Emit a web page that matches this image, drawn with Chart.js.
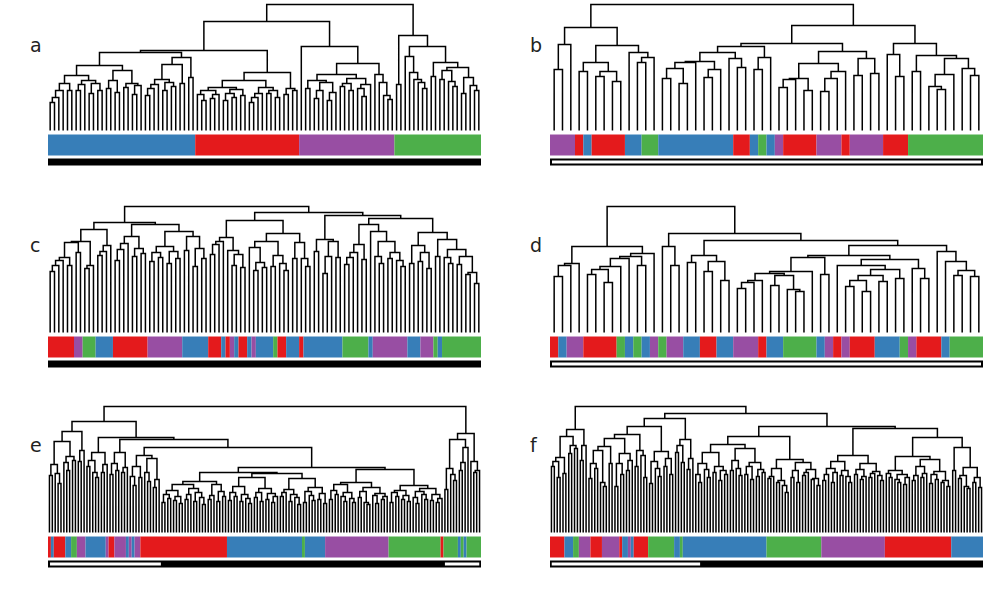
<!DOCTYPE html>
<html>
<head>
<meta charset="utf-8">
<script src="https://cdn.jsdelivr.net/npm/chart.js@4.4.1/dist/chart.umd.min.js"></script>
<style>
  body { margin: 0; background: #fff; width: 1000px; height: 600px; position: relative; overflow: hidden; }
  canvas { position: absolute; }
  .lbl { position: absolute; font: 19px "DejaVu Sans"; line-height: 19px; color: #222; }
</style>
</head>
<body>
<div class="lbl" style="left:30px;top:36px">a</div>
<div class="lbl" style="left:530px;top:36px">b</div>
<div class="lbl" style="left:30px;top:236px">c</div>
<div class="lbl" style="left:530px;top:236px">d</div>
<div class="lbl" style="left:30px;top:436px">e</div>
<div class="lbl" style="left:530px;top:436px">f</div>

<canvas id="pa" width="433" height="170" style="left:48px;top:0px"></canvas>
<canvas id="pb" width="433" height="170" style="left:550px;top:0px"></canvas>
<canvas id="pc" width="433" height="170" style="left:48px;top:200px"></canvas>
<canvas id="pd" width="433" height="170" style="left:550px;top:200px"></canvas>
<canvas id="pe" width="433" height="170" style="left:48px;top:400px"></canvas>
<canvas id="pf" width="433" height="170" style="left:550px;top:400px"></canvas>

<script>
// trees: [left,right]height, o = leaf ; heights (0 = leaf baseline)
// classes: one letter per leaf, R red, B blue, P purple, G green
// gaps: white parts of the bottom bar, in leaf units

// ---- a ----
const aA1 = "[[[[[o,o]28,o]33,o]40,[o,o]40]47,[[[o,o]40,o]46,[[o,o]37,[o,o]40]47]50]55";
const aA2 = "[[[o,o]42,[o,o]38]50,[[o,o]43,[[o,o]36,o]45]47]60";
const aA3a = "[[[[o,o]35,o]42,o]46,[[o,o]40,[o,o]44]48]51";
const aBlue = `[[${aA1},${aA2}]65,[[${aA3a},[o,o]47]66,[o,o]53]73]78`;
const aRL = "[[[o,[o,o]30]36,[[o,o]32,o]36]40,[[[o,o]30,[o,o]33]37,[o,o]35]41]43";
const aRR = "[[[[o,o]28,o]33,o]37,[[o,o]37,[o,o]33]40]43";
const aRed = `[[${aRL},${aRR}]50,[[o,o]36,[o,o]40]42]58`;
const aPM = "[[[o,o]42,[[[o,o]32,o]40,[[o,o]30,o]38]48]50,[[[o,o]44,[o,o]40]47,[[o,[o,o]34]42,o]46]52]56";
const aPR = "[o,[o,[o,[o,o]31]35]48]56";
const aPurple = `[o,[${aPM},${aPR}]67]84`;
const aG1 = "[o,[o,[o,[o,[o,o]42]48]51]58]74";
const aG2 = "[[[o,o]51,[o,[o,o]44]49]60,[[o,o]37,[o,[o,o]40]45]53]63";
const aGreen = `[[o,o]46,[${aG1},[[o,o]54,${aG2}]68]84]95`;
const aTree = `[[[${aBlue},${aRed}]80,${aPurple}]109,${aGreen}]126`;
const aClasses = "BBBBBBBBBBBBBBBBBBBBBBBBBBBBBBBBBB" + "RRRRRRRRRRRRRRRRRRRRRRRR" + "PPPPPPPPPPPPPPPPPPPPPP" + "GGGGGGGGGGGGGGGGGGGG";
const aGaps = [];

// ---- b ----
const bL = "[[[o,o]61,o]86,[[[o,o]59,[[o,o]54,[o,o]49]59]68,[o,[[o,o]68,o]73]78]85]103";
const bUV = "[[[[[[o,o]52,[o,o]47]62,o]68,[[o,o]53,o]61]69,[o,[o,o]63]72]78,[[o,o]61,o]73]84";
const bX = "[[[[[o,o]43,o]51,[o,o]40]52,[[[o,o]39,o]52,o]59]67,[[o,o]55,[o,o]57]72]79";
const bY = "[[o,[o,o]54]76,[[o,o]59,[[[o,[o,o]41]44,o]56,[o,[o,o]55]62]72]75]87";
const bTree = `[${bL},[[${bUV},${bX}]87,${bY}]105]126`;
const bClasses = "PPPRBRRRRBBGGBBBBBBBBBRRBGBPRRRRPPPRPPPPRRRGGGGGGGGG";
const bGaps = [[-0.26, 51.26]];

// ---- c ----
const cL1 = "[[[[[[o,o]61,o]67,o]72,[o,o]67]75,[o,o]80]90,[[o,o]64,o]67]91";
const cL2 = "[[[o,o]77,o]81,o]87";
const cMred = "[[[[o,o]72,o]83,o]89,[[o,o]76,[o,o]79]84]96";
const cMpur = "[[[o,o]71,[o,o]75]80,[[o,o]69,[o,o]74]81]86";
const cMblu = "[[o,o]82,[[o,o]66,[o,o]74]84]96";
const cLeft = `[[${cL1},${cL2}]103,[${cMred},[${cMpur},${cMblu}]101]108]110`;
const cR1 = "[[[[o,o]78,o]88,o]91,[o,[[o,o]67,[o,o]65]78]82]95";
const cR2 = "[[[o,[[o,o]62,[o,o]65]70]85,[[o,o]66,[o,[o,o]62]69]77]91,[[o,o]74,[o,[o,o]66]74]90]99";
const cS1 = "[[o,o]81,[[[o,o]59,o]76,[o,o]75]91]93";
const cS2 = "[[[[[o,o]68,o]75,o]80,[o,o]73]88,[o,[[o,[o,o]69]76,[[o,o]74,[o,[o,o]66]72]80]91]101]108";
const cS3 = "[[[o,o]69,[[o,o]71,[o,o]64]80]87,[[o,o]76,[[o,[o,o]69]75,[[o,o]68,[[o,o]58,[o,o]49]60]76]83]93]100";
const cRight = `[[${cR1},${cR2}]112,[${cS1},[${cS2},${cS3}]114]117]120`;
const cTree = `[${cLeft},${cRight}]126`;
const cClasses = "RRRRRRPPGGGBBBBRRRRRRRRPPPPPPPPBBBBBBRRRBRPBRRBPBBBBGRRBBBRBBBBBBBBBGGGGGGBPPPPPPPPBBBPPPGBGGGGGGGGG";
const cGaps = [];

// ---- d ----
const dL = "[[[[o,o]56,o]67,o]69,[[[[[[o,o]58,[o,o]50]63,o]66,o]74,[o,o]67]76,o]79]86";
const dR1 = "[o,[o,o]67]86";
const dR2a = "[[o,o]70,[[o,o]61,[o,o]52]71]77";
const dR2b1 = "[[[[[o,o]44,o]50,o]52,[[o,o]47,[o,[o,o]41]43]57]59,o]61";
const dR2b3 = "[[o,[[[[o,o]46,[o,o]41]52,[o,o]51]57,[o,o]54]63]67,[o,[o,o]54]64]73";
const dR2b4 = "[o,[o,[[o,o]57,[o,o]56]62]71]81";
const dTree = `[${dL},[${dR1},[${dR2a},[[[${dR2b1},[o,o]58]75,${dR2b3}]77,${dR2b4}]87]92]99]126`;
const dClasses = "RBPPRRRRGBGBPGPPBBRRBBPPPRBBGGGGBPRPRRRBBBGPRRRBGGGG";
const dGaps = [[-0.26, 51.26]];

// ---- e ----
const eL1 = "[[[[o,o]57,[o,[o,o]49]59]68,[[o,[o,o]62]70,[o,o]72]76]91,[[o,o]71,o]82]101";
const eL2a = "[[[o,o]66,[o,[o,o]55]60]72,[[o,o]60,o]68]80";
const eL2b = "[[[o,o]58,[o,o]62]69,[[o,o]60,o]65]80";
const eA = "[[[o,[o,o]47]56,[o,o]55]66,[[o,[o,o]51]60,[[o,o]45,o]53]74]77";
const eB1a = "[[[[[o,o]30,[o,o]34]38,[[o,o]32,[o,o]29]36]42,[[[o,o]33,o]38,[[o,o]31,[o,[o,o]28]35]40]44]48,[[[o,o]33,o]37,[[o,o]31,[o,o]36]41]48]51";
const eB1b = "[[[[[o,o]32,[o,o]36]40,[[o,o]31,[o,[o,o]29]34]38]46,[[[o,o]35,[o,o]31]40,[[o,o]33,[[o,o]30,o]36]39]44]55,[[[[o,o]36,o]40,[[o,o]31,[o,[o,o]28]35]38]43,[[[o,o]30,[o,[o,o]32]37]41,[[o,o]33,[o,o]29]39]45]54]59";
const eB2a = "[[[[o,o]33,[o,o]38]42,[[o,[o,o]31]36,[o,[o,o]30]34]40]48,[[[o,o]35,[o,[o,o]28]30]41,[[o,[o,o]29]37,[[o,o]33,o]36]39]45]50";
const eB2b = "[[[[o,o]30,[o,o]36]40,[[o,o]33,[o,o]31]37]42,[[[o,[o,o]29]35,[o,[o,o]33]38]41,[[o,o]32,[[o,o]30,o]34]38]44]47";
const eRight = "[[[[o,o]43,[o,[o,o]52]58]64,[[[o,o]62,o]70,o]85]93,[o,[[o,o]60,o]62]71]99";
const eTree = `[[${eL1},[${eL2a},[${eL2b},[${eA},[[${eB1a},${eB1b}]60,[${eB2a},${eB2b}]63]65]85]93]95]111,${eRight}]126`;
const eClasses = "RBRRRRBBGGPPPBBBBBBBPRRPPPPBPBPP" + "RRRRRRRRRRRRRRRRRRRRRRRRRRRRRR" + "BBBBBBBBBBBBBBBBBBBBBBBBBB" + "G" + "BBBBBBB" +
  "PPPPPPPPPPPPPPPPPPPPPP" + "GGGGGGGGGGGGGGGGGG" + "R" + "GGGGG" + "BGB" + "GGGGG";
const eGaps = [[0.2, 38.6], [137, 148.9]];

// ---- f ----
const fL = "[[[[[o,o]66,[o,o]55]71,[o,o]59]75,[[o,o]79,[o,o]84]87]96,[[o,o]72,o]87]103";
const fA = "[[[[o,o]54,[o,o]64]69,[o,[o,o]46]50]82,[o,o]69]86";
const fB = "[[[o,o]46,[o,o]58]69,[[o,o]62,o]72]79";
const fC = "[[o,o]66,[o,[o,o]55]77]82";
const fD = "[[[o,o]49,[o,[o,o]56]64]71,[[o,o]66,[o,o]58]74]81";
const fE = "[[[o,o]80,[o,o]70]87,[[o,o]63,o]74]93";
const fG = "[[[o,[o,o]50]58,[o,[o,o]55]63]69,[[o,o]60,[[o,o]52,[o,o]58]62]66]80";
const fH = "[[[o,o]62,[o,[o,o]57]64]72,[[[o,o]58,[o,o]53]66,[[o,o]56,[o,o]60]63]70]84";
const fI = "[[[[o,o]54,o]56,[[o,o]50,[o,[o,o]40]47]52]64,[[[o,o]55,[o,o]50]62,[[[o,o]57,o]60,[[o,o]53,[o,o]47]54]63]70]73";
const fJ = "[[[[[o,o]52,o]58,[[o,o]50,o]60]64,[[o,o]57,[o,[o,o]50]56]62]71,[[[o,o]58,[[o,o]53,o]56]63,[[[o,o]55,o]59,[o,[o,o]52]57]61]69]77";
const fK = "[[[o,[o,o]55]59,[[o,[o,o]50]53,[[o,o]48,o]55]58]62,[[[[o,o]52,o]57,[[o,o]55,o]59]66,[[[o,o]49,[o,o]53]58,[[o,o]50,[o,o]46]52]61]73]76";
const fLb = "[[o,o]62,[[[o,o]54,[o,[o,o]44]46]57,[[o,o]50,[o,o]45]55]65]85";
const fTree = `[${fL},[[[[[${fA},${fB}]94,${fC}]98,${fD}]106,${fE}]114,[[[${fG},${fH}]88,${fI}]96,[${fJ},[${fK},${fLb}]95]104]106]119]126`;
const fClasses = "RRRRRBBBGGPPPPRRRRPPPPPPRBBPBRRRRRGGGGGGGGGBBG" + "BBBBBBBBBBBBBBBBBBBBBBBBBBBBB" +
  "GGGGGGGGGGGGGGGGGGG" + "PPPPPPPPPPPPPPPPPPPPPP" + "RRRRRRRRRRRRRRRRRRRRRRR" + "BBBBBBBBBBB";
const fGaps = [[0.1, 51.5]];

const colours = { R: "#e41a1c", B: "#377eb8", P: "#984ea3", G: "#4daf4a" };

function parseTree(str) {
  str = str.replace(/\s+/g, "");
  let pos = 0, leaf = 0;
  const segs = [];
  function node() {
    if (str[pos] === "o") { pos++; return { x: leaf++, h: 0 }; }
    pos++; // [
    const a = node();
    pos++; // ,
    const b = node();
    pos++; // ]
    const m = /^[\d.]+/.exec(str.slice(pos));
    pos += m[0].length;
    const h = parseFloat(m[0]);
    segs.push({ x: a.x, y: a.h }, { x: a.x, y: h }, { x: b.x, y: h }, { x: b.x, y: b.h }, { x: null, y: null });
    return { x: (a.x + b.x) / 2, h: h };
  }
  node();
  return { segs: segs, leaves: leaf };
}

function dibujar(id, tree, classes, gaps, baseline) {
  const t = parseTree(tree);
  const n = classes.length;
  if (t.leaves !== n) console.log(id, "leaves", t.leaves, "classes", n);

  const strip = [];
  for (let i = 0; i <= n; i++) strip.push({ x: i - 0.5, y: -14.5 });

  let datasets = [];
  gaps.forEach(g => {
    datasets.push({ data: [{ x: g[0], y: -31.5 }, { x: g[1], y: -31.5 }], borderColor: "#fff", borderWidth: 3 });
  });
  datasets.push({ data: [{ x: -0.5, y: -31.5 }, { x: n - 0.5, y: -31.5 }], borderColor: "#000", borderWidth: 7 });
  datasets.push({
    data: strip, borderColor: "#777", borderWidth: 21,
    segment: { borderColor: c => colours[classes[c.p0DataIndex]] }
  });
  datasets.push({ data: t.segs, borderColor: "#000", borderWidth: 1.5 });

  datasets.forEach(d => {
    d.pointRadius = 0;
    d.pointHoverRadius = 0;
    d.spanGaps = false;
    d.borderCapStyle = "butt";
    d.borderJoinStyle = "miter";
    d.fill = false;
  });

  return new Chart(document.getElementById(id), {
    type: "line",
    data: { datasets: datasets },
    options: {
      responsive: false,
      animation: false,
      events: [],
      layout: { padding: 0 },
      plugins: { legend: { display: false }, tooltip: { enabled: false } },
      scales: {
        x: { type: "linear", display: false, min: -0.5, max: n - 0.5 },
        y: { type: "linear", display: false, min: baseline - 170 + 0.5, max: baseline + 0.5 }
      }
    }
  });
}

dibujar("pa", aTree, aClasses, aGaps, 130);
dibujar("pb", bTree, bClasses, bGaps, 130);
dibujar("pc", cTree, cClasses, cGaps, 132);
dibujar("pd", dTree, dClasses, dGaps, 132);
dibujar("pe", eTree, eClasses, eGaps, 132);
dibujar("pf", fTree, fClasses, fGaps, 132);
</script>
</body>
</html>
